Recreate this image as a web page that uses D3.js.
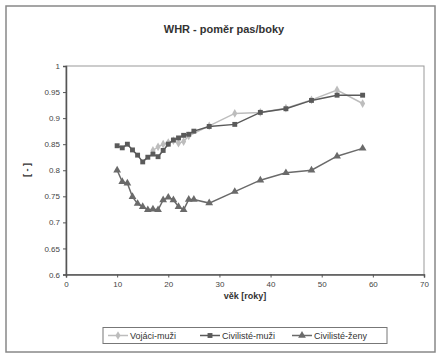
<!DOCTYPE html>
<html><head><meta charset="utf-8">
<script src="https://cdn.jsdelivr.net/npm/d3@7"></script>
<style>body{margin:0;background:#fff;}svg{display:block;font-family:Arial,"Liberation Sans",sans-serif;}</style>
</head><body>
<script>
const title = "WHR - poměr pas/boky";
const xLabel = "věk [roky]";
const yLabel = "[ - ]";
const xTicks = [0,10,20,30,40,50,60,70];
const yTicks = [0.6,0.65,0.7,0.75,0.8,0.85,0.9,0.95,1];

const vojaciAge = [17,18,19,20,21,22,23,24,28,33,38,43,48,53,58];
const vojaciVal = [0.838,0.845,0.850,0.853,0.857,0.852,0.855,0.866,0.885,0.909,0.911,0.919,0.935,0.954,0.928];

const civMuziAge = [10,11,12,13,14,15,16,17,18,19,20,21,22,23,24,25,28,33,38,43,48,53,58];
const civMuziVal = [0.847,0.843,0.850,0.839,0.829,0.816,0.825,0.831,0.826,0.838,0.850,0.858,0.862,0.867,0.869,0.875,0.884,0.888,0.911,0.918,0.934,0.944,0.944];

const civZenyAge = [10,11,12,13,14,15,16,17,18,19,20,21,22,23,24,25,28,33,38,43,48,53,58];
const civZenyVal = [0.800,0.778,0.775,0.749,0.736,0.730,0.724,0.725,0.724,0.743,0.748,0.743,0.730,0.724,0.744,0.744,0.737,0.759,0.781,0.795,0.800,0.827,0.842];

const seriesNames = ["Vojáci-muži","Civilisté-muži","Civilisté-ženy"];

const W=441,H=355;
const svg=d3.select("body").append("svg").attr("width",W).attr("height",H);
svg.append("rect").attr("x",6).attr("y",6).attr("width",429).attr("height",346)
  .attr("fill","#fff").attr("stroke","#888").attr("stroke-width",1.5);

const L=66,R=424,T=66,B=274.5;
const x=d3.scaleLinear().domain([0,70]).range([L,R]);
const y=d3.scaleLinear().domain([0.6,1]).range([B,T]);

// plot frame
svg.append("rect").attr("x",L).attr("y",T).attr("width",R-L).attr("height",B-T)
  .attr("fill","none").attr("stroke","#999").attr("stroke-width",1);

const gx=svg.append("g").attr("transform",`translate(0,${B})`)
  .call(d3.axisBottom(x).tickValues(xTicks).tickSize(3).tickPadding(4).tickFormat(d3.format("d")));
const gy=svg.append("g").attr("transform",`translate(${L},0)`)
  .call(d3.axisLeft(y).tickValues(yTicks).tickSize(3).tickPadding(3).tickFormat(d=>d===1?"1":(d===0.6||d===0.7||d===0.8||d===0.9?d3.format(".1f")(d):d3.format(".2f")(d))));
[gx,gy].forEach(g=>{
  g.selectAll("path").attr("stroke","#555").attr("stroke-width",1.5);
  g.selectAll("line").attr("stroke","#555");
  g.selectAll("text").attr("fill","#444").attr("font-size","8px").attr("font-family","Arial");
});

svg.append("text").attr("x",224).attr("y",33).attr("text-anchor","middle")
  .attr("font-size","11px").attr("font-weight","bold").attr("fill","#333").text(title);
svg.append("text").attr("x",245).attr("y",299).attr("text-anchor","middle")
  .attr("font-size","9px").attr("font-weight","bold").attr("fill","#333").text(xLabel);
svg.append("text").attr("transform","translate(30,170) rotate(-90)").attr("text-anchor","middle")
  .attr("font-size","9px").attr("font-weight","bold").attr("fill","#333").text(yLabel);

const line=d3.line().x(d=>x(d[0])).y(d=>y(d[1]));
const series=[
  {name:seriesNames[0],data:d3.zip(vojaciAge,vojaciVal),color:"#bdbdbd",sym:d3.symbolDiamond,size:22},
  {name:seriesNames[1],data:d3.zip(civMuziAge,civMuziVal),color:"#5a5a5a",sym:d3.symbolSquare,size:24},
  {name:seriesNames[2],data:d3.zip(civZenyAge,civZenyVal),color:"#6a6a6a",sym:d3.symbolTriangle,size:26}
];
series.forEach(s=>{
  svg.append("path").datum(s.data).attr("d",line).attr("fill","none")
    .attr("stroke",s.color).attr("stroke-width",1.5);
  svg.selectAll(null).data(s.data).enter().append("path")
    .attr("transform",d=>`translate(${x(d[0])},${y(d[1])})`)
    .attr("d",d3.symbol().type(s.sym).size(s.size)).attr("fill",s.color);
});

// legend
svg.append("rect").attr("x",103).attr("y",327.5).attr("width",284).attr("height",16)
  .attr("fill","#fff").attr("stroke","#777").attr("stroke-width",1);
const lx=[108,200,292];
series.forEach((s,i)=>{
  const g=svg.append("g");
  g.append("line").attr("x1",lx[i]).attr("x2",lx[i]+20).attr("y1",335.5).attr("y2",335.5)
    .attr("stroke",s.color).attr("stroke-width",1.5);
  g.append("path").attr("transform",`translate(${lx[i]+10},335.5)`)
    .attr("d",d3.symbol().type(s.sym).size(s.size)).attr("fill",s.color);
  g.append("text").attr("x",lx[i]+22).attr("y",339).attr("font-size","9px").attr("fill","#333").text(s.name);
});
</script>
</body></html>
